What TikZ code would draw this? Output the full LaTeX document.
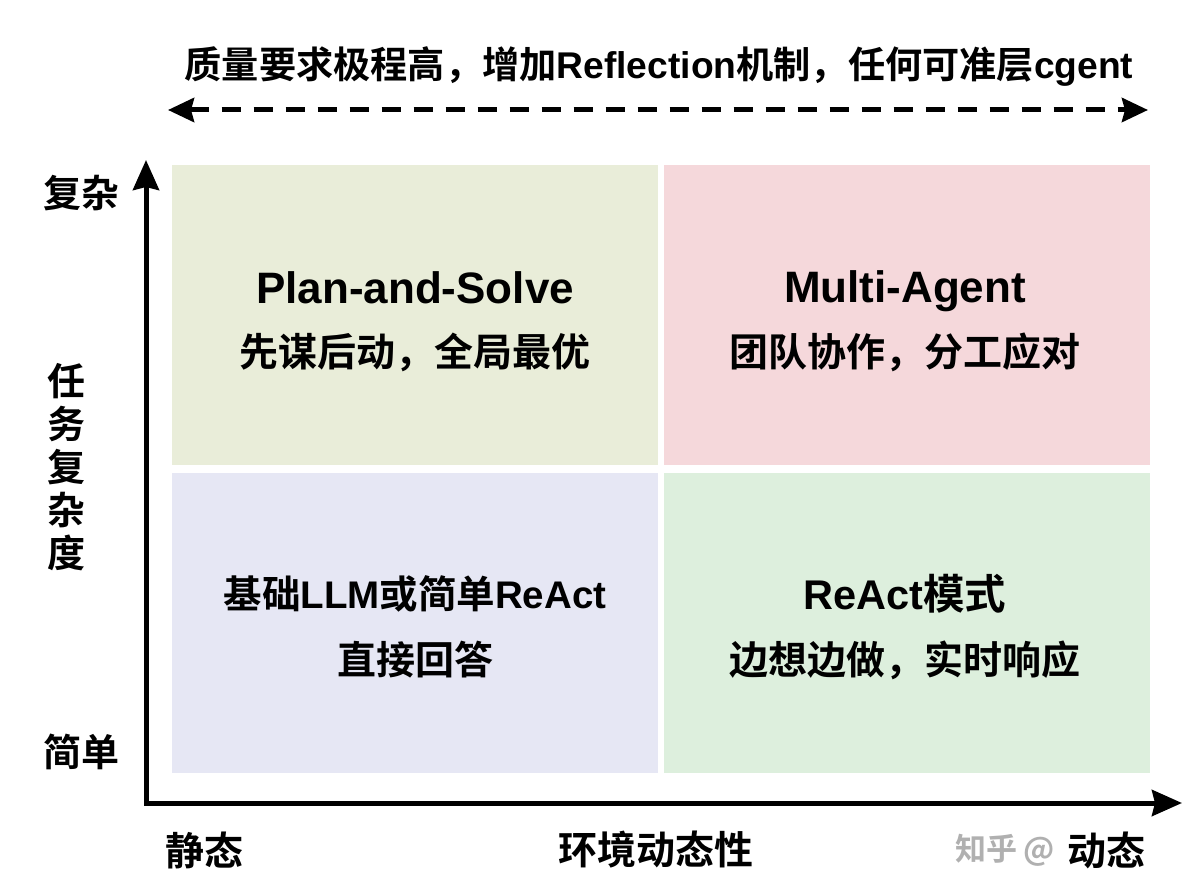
\documentclass[tikz,border=0pt]{standalone}
\usepackage{fontspec}
\setmainfont{Liberation Sans}
\newfontfamily\cjk{Noto Sans CJK SC}[BoldFont={Noto Sans CJK SC Bold}]
\newcommand\C[1]{{\cjk\bfseries #1}}
\usetikzlibrary{arrows.meta}
\definecolor{qtl}{HTML}{E9EDD9}
\definecolor{qtr}{HTML}{F5D8DB}
\definecolor{qbl}{HTML}{E6E7F4}
\definecolor{qbr}{HTML}{DDEFDD}
\definecolor{wm}{HTML}{B0B0B0}
\tikzset{
  quad/.style={inner sep=0pt, minimum width=486pt, minimum height=300pt},
  lbl/.style={inner sep=0pt, text=black, align=center},
  axis/.style={line width=5pt, line join=miter, {Stealth[length=30pt,width=26pt,inset=3pt]}-{Stealth[length=30pt,width=26pt,inset=3pt]}},
  dasharrow/.style={line width=5pt, dash pattern=on 19pt off 13pt, {Stealth[length=26pt,width=24pt,inset=3pt]}-{Stealth[length=26pt,width=24pt,inset=3pt]}},
}
\begin{document}
\begin{tikzpicture}[x=1pt,y=-1pt]
\useasboundingbox (0,0) rectangle (1200,896);
\fill[white] (0,0) rectangle (1200,896);
% quadrants
\node[quad, fill=qtl] (tl) at (415,315) {};
\node[quad, fill=qtr] (tr) at (907,315) {};
\node[quad, fill=qbl] (bl) at (415,623) {};
\node[quad, fill=qbr] (br) at (907,623) {};
% top text and dashed arrow
\node[lbl, font=\bfseries\fontsize{37.2}{44}\selectfont] (top) at (659,67) {\C{质量要求极程高，增加}Reflection\C{机制，任何可准层}cgent};
\coordinate (dl) at (168,110);
\coordinate (dr) at (1148,110);
\draw[dasharrow] (dl) -- (dr);
% axes
\coordinate (ytop) at (146,160);
\coordinate (o) at (146,803);
\coordinate (xend) at (1182,803);
\draw[axis] (ytop) -- (o) -- (xend);
% axis labels
\node[lbl, font=\fontsize{38}{44}\selectfont] (complex) at (81,193) {\C{复杂}};
\node[lbl, font=\fontsize{38}{44}\selectfont] (simple) at (81,752) {\C{简单}};
\node[lbl, font=\fontsize{38}{43}\selectfont] (ylab) at (66,467) {\C{任}\\\C{务}\\\C{复}\\\C{杂}\\\C{度}};
\node[lbl, font=\fontsize{31}{36}\selectfont, text=wm] (wmark) at (1005,850) {\C{知乎}\hspace{6pt}\C{@}};
\node[lbl, font=\fontsize{39}{46}\selectfont] (static) at (204,850) {\C{静态}};
\node[lbl, font=\fontsize{39}{46}\selectfont] (env) at (656,850) {\C{环境动态性}};
\node[lbl, font=\fontsize{39}{46}\selectfont] (dynamic) at (1106,850) {\C{动态}};
% quadrant texts
\node[lbl, font=\bfseries\fontsize{44}{52}\selectfont] (tlt) at (415,288) {Plan-and-Solve};
\node[lbl, font=\fontsize{39}{44}\selectfont] (tls) at (415,352) {\C{先谋后动，全局最优}};
\node[lbl, font=\bfseries\fontsize{44}{52}\selectfont] (trt) at (905,291) {Multi-Agent};
\node[lbl, font=\fontsize{39}{44}\selectfont] (trs) at (905,352) {\C{团队协作，分工应对}};
\node[lbl, font=\bfseries\fontsize{38.5}{46}\selectfont] (blt) at (415,594) {\C{基础}LLM\C{或简单}ReAct};
\node[lbl, font=\fontsize{39}{44}\selectfont] (bls) at (415,660) {\C{直接回答}};
\node[lbl, font=\bfseries\fontsize{41.5}{50}\selectfont] (brt) at (905,594) {ReAct\C{模式}};
\node[lbl, font=\fontsize{39}{44}\selectfont] (brs) at (905,660) {\C{边想边做，实时响应}};
\end{tikzpicture}
\end{document}
